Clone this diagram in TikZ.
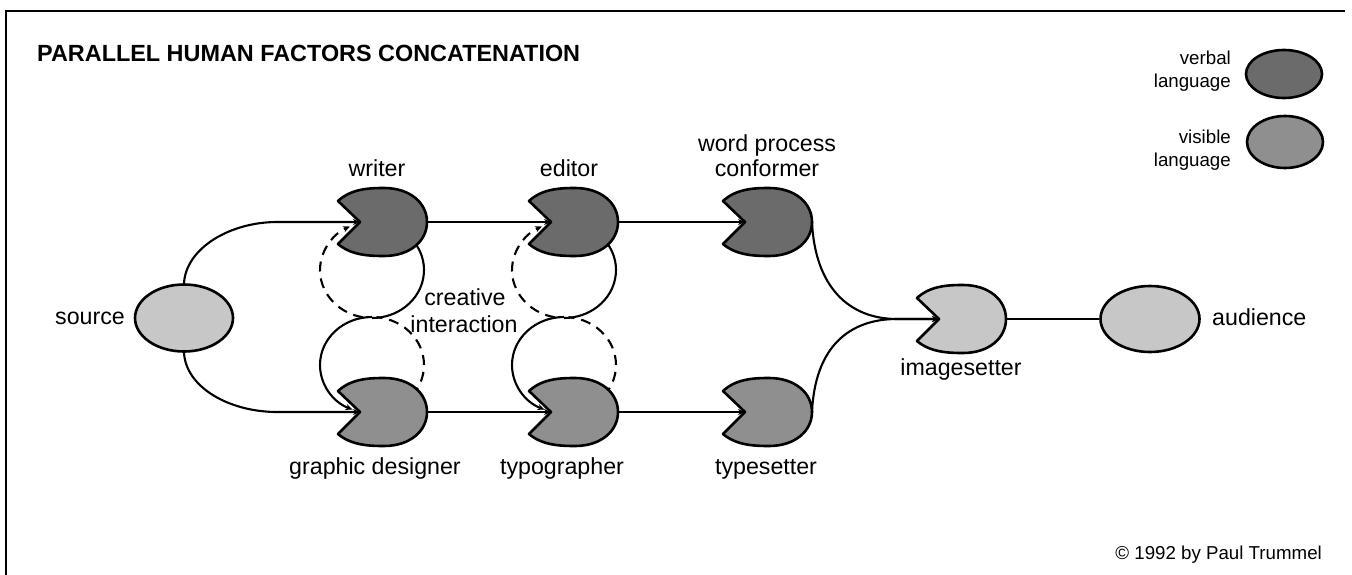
\documentclass[tikz,border=0pt]{standalone}
\usepackage{fontspec}
\setmainfont{Liberation Sans}
\usetikzlibrary{shapes.geometric,calc,arrows.meta}
\definecolor{verbalc}{gray}{0.42}
\definecolor{visiblec}{gray}{0.56}
\definecolor{lightc}{gray}{0.78}
\tikzset{
  conn/.style={line width=2.1pt},
  tip/.style={-{Stealth[length=7pt,width=6pt]}},
  loopsolid/.style={line width=2.1pt},
  loopdash/.style={line width=2.1pt, dash pattern=on 10pt off 7pt},
  shapeline/.style={draw=black, line width=2.6pt, line join=round},
  oval/.style={shapeline, ellipse, inner sep=0pt, minimum width=98pt, minimum height=67pt},
  lab/.style={font=\fontsize{23.2}{27}\selectfont, inner sep=0pt},
  leg/.style={font=\fontsize{18.7}{22}\selectfont, inner sep=0pt},
  pics/pac/.style={code={
    \path[shapeline, fill=#1] (-22,0) -- (-44,-21) .. controls (-31,-33) and (-14,-34) .. (2,-34) .. controls (28,-34) and (45,-19) .. (45,0) .. controls (45,19) and (28,34) .. (2,34) .. controls (-14,34) and (-31,33) .. (-44,22) -- cycle;
    \coordinate (-in) at (-22,0);
    \coordinate (-out) at (45,0);
  }},
}
\begin{document}
\begin{tikzpicture}[x=1pt,y=-1pt]
\useasboundingbox (0,0) rectangle (1352,575);
% frame
\draw[line width=2pt] (1345,11) -- (6,11) -- (6,575);
% title
\node[anchor=base west, inner sep=0pt] (title) at (37,62) {\bfseries\fontsize{23.4}{27}\selectfont PARALLEL HUMAN FACTORS CONCATENATION};
% legend
\node[shapeline, ellipse, inner sep=0pt, minimum width=76pt, minimum height=48pt, fill=verbalc] (verbalkey) at (1284,74) {};
\node[shapeline, ellipse, inner sep=0pt, minimum width=76pt, minimum height=52pt, fill=visiblec] (visiblekey) at (1285,142) {};
\node[leg, anchor=base east] (verbal1) at (1231,65) {verbal};
\node[leg, anchor=base east] (verbal2) at (1231,88) {language};
\node[leg, anchor=base east] (visible1) at (1231,143) {visible};
\node[leg, anchor=base east] (visible2) at (1231,166) {language};
\node[leg, anchor=base east] (copyright) at (1322,559) {© 1992 by Paul Trummel};
% coordinates for loops (positions of pacs)
\coordinate (wc) at (382,222);
\coordinate (ec) at (573,222);
\coordinate (gc) at (382,412);
\coordinate (tc) at (573,412);
% loops
\coordinate (l1) at ($(wc)+(-10,48)$);
\coordinate (l2) at ($(wc)+(-10,143)$);
\coordinate (l3) at ($(ec)+(-9,48)$);
\coordinate (l4) at ($(ec)+(-9,143)$);
\foreach \c in {l1,l3}{
  \draw[loopsolid] ($(\c)+(-40:52 and 48)$) arc[start angle=-40, end angle=90, x radius=52, y radius=48];
  \draw[loopdash, tip] ($(\c)+(100:52 and 48)$) arc[start angle=100, end angle=245, x radius=52, y radius=48];
}
\foreach \c in {l2,l4}{
  \draw[loopsolid, tip] ($(\c)+(270:52 and 48)$) arc[start angle=270, end angle=112, x radius=52, y radius=48];
  \draw[loopdash] ($(\c)+(40:52 and 48)$) arc[start angle=40, end angle=-85, x radius=52, y radius=48];
}
% nodes
\node[oval, fill=lightc] (source) at (184,318) {};
\pic (writer) at (wc) {pac=verbalc};
\pic (editor) at (ec) {pac=verbalc};
\pic (conformer) at (767,222) {pac=verbalc};
\pic (gd) at (gc) {pac=visiblec};
\pic (typographer) at (tc) {pac=visiblec};
\pic (typesetter) at (767,412) {pac=visiblec};
\pic (imagesetter) at (961,319) {pac=lightc};
\node[oval, fill=lightc, minimum width=99pt, minimum height=66pt] (audience) at (1150,319) {};
% connectors
\draw[conn, tip] (source.north) .. controls ($(source.north)+(2,-35)$) and ($(writer-in)+(-130,0)$) .. ($(writer-in)+(-83,0)$) -- (writer-in);
\draw[conn, tip] (source.south) .. controls ($(source.south)+(2,35)$) and ($(gd-in)+(-130,0)$) .. ($(gd-in)+(-83,0)$) -- (gd-in);
\draw[conn, tip] (writer-out) -- (editor-in);
\draw[conn, tip] (editor-out) -- (conformer-in);
\draw[conn, tip] (gd-out) -- (typographer-in);
\draw[conn, tip] (typographer-out) -- (typesetter-in);
\draw[conn, tip] (conformer-out) .. controls ($(conformer-out)+(3,65)$) and ($(imagesetter-in)+(-90,0)$) .. ($(imagesetter-in)+(-42,0)$) -- (imagesetter-in);
\draw[conn, tip] (typesetter-out) .. controls ($(typesetter-out)+(3,-65)$) and ($(imagesetter-in)+(-90,0)$) .. ($(imagesetter-in)+(-42,0)$) -- (imagesetter-in);
\draw[conn] (imagesetter-out) -- (audience.west);
% labels
\node[lab, anchor=base east] (sourcelab) at (125,324) {source};
\node[lab, anchor=base west] (audiencelab) at (1212,325) {audience};
\node[lab, anchor=base] (writerlab) at (377,176) {writer};
\node[lab, anchor=base] (editorlab) at (569,176) {editor};
\node[lab, anchor=base] (conformerlab1) at (767,151) {word process};
\node[lab, anchor=base] (conformerlab2) at (767,176) {conformer};
\node[lab, anchor=base] (gdlab) at (375,474) {graphic designer};
\node[lab, anchor=base] (typographerlab) at (562,474) {typographer};
\node[lab, anchor=base] (typesetterlab) at (766,474) {typesetter};
\node[lab, anchor=base] (imagesetterlab) at (961,375) {imagesetter};
\node[lab, anchor=base] (creativelab) at (465,305) {creative};
\node[lab, anchor=base] (interactionlab) at (464,332) {interaction};
\end{tikzpicture}
\end{document}
